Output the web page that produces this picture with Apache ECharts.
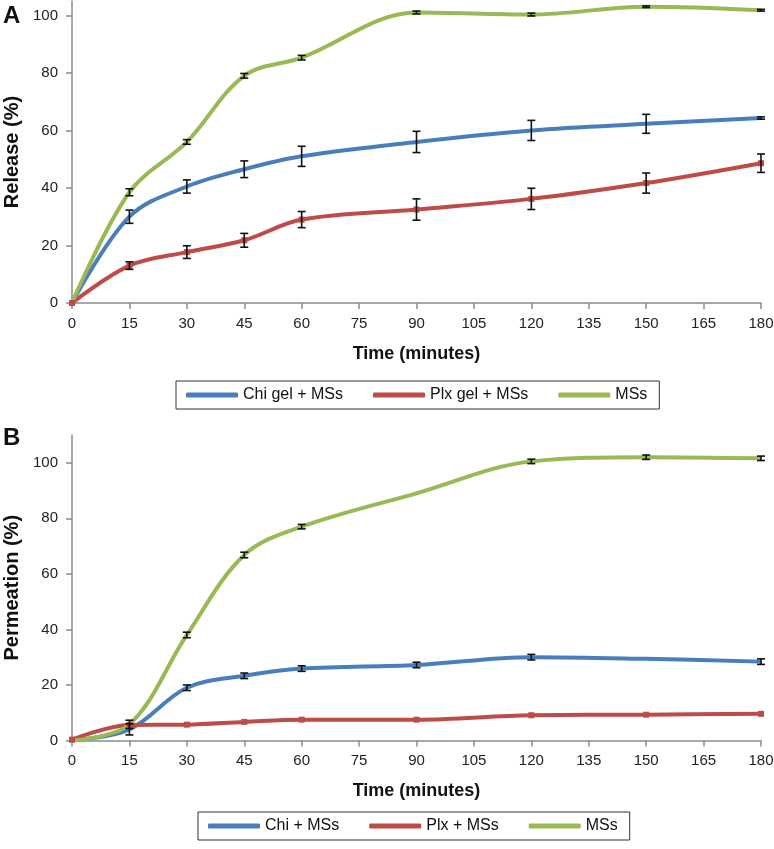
<!DOCTYPE html>
<html>
<head>
<meta charset="utf-8">
<script src="https://cdn.jsdelivr.net/npm/echarts@6/dist/echarts.min.js"></script>
<style>
    html, body { margin: 0; padding: 0; background: #fff; }
    #chart { width: 774px; height: 849px; }
</style>
</head>
<body>
<div id="chart"></div>
<script>
    // sampling times (minutes)
    const times = [0, 15, 30, 45, 60, 90, 120, 150, 180];

    // panel A - release (%)
    const releaseChi = [0, 30, 40.5, 46.5, 51, 56, 60, 62.3, 64.3];
    const releaseChiErr = [0, 2.3, 2.3, 2.9, 3.5, 3.7, 3.5, 3.3, 0.4];
    const releasePlx = [0, 13, 17.7, 21.8, 29, 32.5, 36.2, 41.7, 48.6];
    const releasePlxErr = [0, 1.3, 2.2, 2.4, 2.8, 3.7, 3.7, 3.5, 3.2];
    const releaseMs = [0, 38.5, 56, 79, 85.3, 101, 100.3, 103, 101.8];
    const releaseMsErr = [0, 1.2, 0.8, 0.8, 0.8, 0.5, 0.5, 0.3, 0.3];

    // panel B - permeation (%)
    const permChi = [0, 4, 19, 23.3, 25.9, 27.2, 30, 29.4, 28.4];
    const permChiErr = [0, 2, 1, 1, 1, 1, 1, 0, 1];
    const permPlx = [0.3, 5.6, 5.7, 6.7, 7.5, 7.5, 9.1, 9.3, 9.6];
    const permPlxErr = [0, 0, 0, 0, 0, 0, 0, 0, 0];
    const permMs = [0, 5.8, 38, 66.8, 77, 89, 100.5, 102, 101.6];
    const permMsErr = [0, 1.5, 1, 1, 0.8, 0, 0.8, 0.8, 0.8];

    const namesA = ['Chi gel + MSs', 'Plx gel + MSs', 'MSs'];
    const namesB = ['Chi + MSs', 'Plx + MSs', 'MSs'];

    const colors = ['#4a7ebb', '#be4b48', '#98b954'];
    const font = '"Liberation Sans", Arial, sans-serif';

    let chart = echarts.init(document.getElementById('chart'));

    function pairs(vals) {
        return times.map((t, i) => [t, vals[i]]);
    }
    function errData(vals, errs) {
        return times.map((t, i) => [t, vals[i] - errs[i], vals[i] + errs[i]]);
    }

    function renderErr(params, api) {
        let x = api.value(0);
        let lo = api.value(1);
        let hi = api.value(2);
        if (hi - lo <= 0) return null;
        let p1 = api.coord([x, lo]);
        let p2 = api.coord([x, hi]);
        let w = 4;
        let st = { stroke: '#111', lineWidth: 1.6 };
        return {
            type: 'group',
            children: [
                { type: 'line', shape: { x1: p1[0], y1: p1[1], x2: p2[0], y2: p2[1] }, style: st },
                { type: 'line', shape: { x1: p1[0] - w, y1: p1[1], x2: p1[0] + w, y2: p1[1] }, style: st },
                { type: 'line', shape: { x1: p2[0] - w, y1: p2[1], x2: p2[0] + w, y2: p2[1] }, style: st }
            ]
        };
    }

    function lineSeries(name, vals, idx, color, withMarker) {
        return {
            name: name,
            type: 'line',
            xAxisIndex: idx,
            yAxisIndex: idx,
            data: pairs(vals),
            smooth: 0.35,
            symbol: withMarker ? 'rect' : 'none',
            symbolSize: 6,
            showSymbol: withMarker,
            lineStyle: { width: 4, color: color },
            itemStyle: { color: color },
            z: 2
        };
    }

    function errSeries(vals, errs, idx) {
        return {
            type: 'custom',
            xAxisIndex: idx,
            yAxisIndex: idx,
            renderItem: renderErr,
            data: errData(vals, errs),
            encode: { x: 0, y: [1, 2] },
            silent: true,
            z: 5
        };
    }

    function xAxis(idx) {
        return {
            type: 'value',
            gridIndex: idx,
            min: 0,
            max: 180,
            interval: 15,
            name: 'Time (minutes)',
            nameLocation: 'middle',
            nameGap: 42,
            nameTextStyle: { fontFamily: font, fontSize: 18, fontWeight: 'bold', color: '#111' },
            axisLine: { show: true, lineStyle: { color: '#8c8c8c', width: 1.5 } },
            axisTick: { show: true, length: 6, lineStyle: { color: '#8c8c8c', width: 1.5 } },
            axisLabel: { fontFamily: font, fontSize: 15, color: '#222', margin: 13 },
            splitLine: { show: false }
        };
    }

    function yAxis(idx, name, max) {
        return {
            type: 'value',
            gridIndex: idx,
            min: 0,
            max: max,
            interval: 20,
            name: name,
            nameLocation: 'middle',
            nameGap: 47,
            nameTextStyle: { fontFamily: font, fontSize: 20, fontWeight: 'bold', color: '#111' },
            axisLine: { show: true, lineStyle: { color: '#8c8c8c', width: 1.5 } },
            axisTick: { show: true, length: 6, lineStyle: { color: '#8c8c8c', width: 1.5 } },
            axisLabel: {
                fontFamily: font, fontSize: 15, color: '#222', margin: 14,
                showMaxLabel: false,
                formatter: v => (v % 20 === 0 ? String(v) : '')
            },
            splitLine: { show: false }
        };
    }

    function legend(names, left, top) {
        return {
            data: names,
            left: left,
            top: top,
            icon: 'roundRect',
            itemWidth: 52,
            itemHeight: 5,
            itemGap: 30,
            padding: [6, 12, 6, 10],
            borderColor: '#333',
            borderWidth: 1,
            borderRadius: 0,
            textStyle: { fontFamily: font, fontSize: 16, color: '#111' }
        };
    }

    chart.setOption({
        animation: false,
        backgroundColor: '#fff',
        graphic: [
            { type: 'text', left: 3, top: 4, style: { text: 'A', fontFamily: font, fontSize: 24, fontWeight: 'bold', fill: '#111' } },
            { type: 'text', left: 3, top: 426, style: { text: 'B', fontFamily: font, fontSize: 24, fontWeight: 'bold', fill: '#111' } }
        ],
        legend: [legend(namesA, 176, 381), legend(namesB, 198, 812)],
        grid: [
            { left: 72, right: 13, top: 1, height: 302, outerBoundsMode: 'none' },
            { left: 72, right: 13, top: 435, height: 305.5, outerBoundsMode: 'none' }
        ],
        xAxis: [xAxis(0), xAxis(1)],
        yAxis: [yAxis(0, 'Release (%)', 105), yAxis(1, 'Permeation (%)', 110)],
        series: [
            lineSeries(namesA[0], releaseChi, 0, colors[0], false),
            lineSeries(namesA[1], releasePlx, 0, colors[1], true),
            lineSeries(namesA[2], releaseMs, 0, colors[2], false),
            errSeries(releaseChi, releaseChiErr, 0),
            errSeries(releasePlx, releasePlxErr, 0),
            errSeries(releaseMs, releaseMsErr, 0),
            lineSeries(namesB[0], permChi, 1, colors[0], false),
            lineSeries(namesB[1], permPlx, 1, colors[1], true),
            lineSeries(namesB[2], permMs, 1, colors[2], false),
            errSeries(permChi, permChiErr, 1),
            errSeries(permPlx, permPlxErr, 1),
            errSeries(permMs, permMsErr, 1)
        ]
    });
</script>
</body>
</html>
